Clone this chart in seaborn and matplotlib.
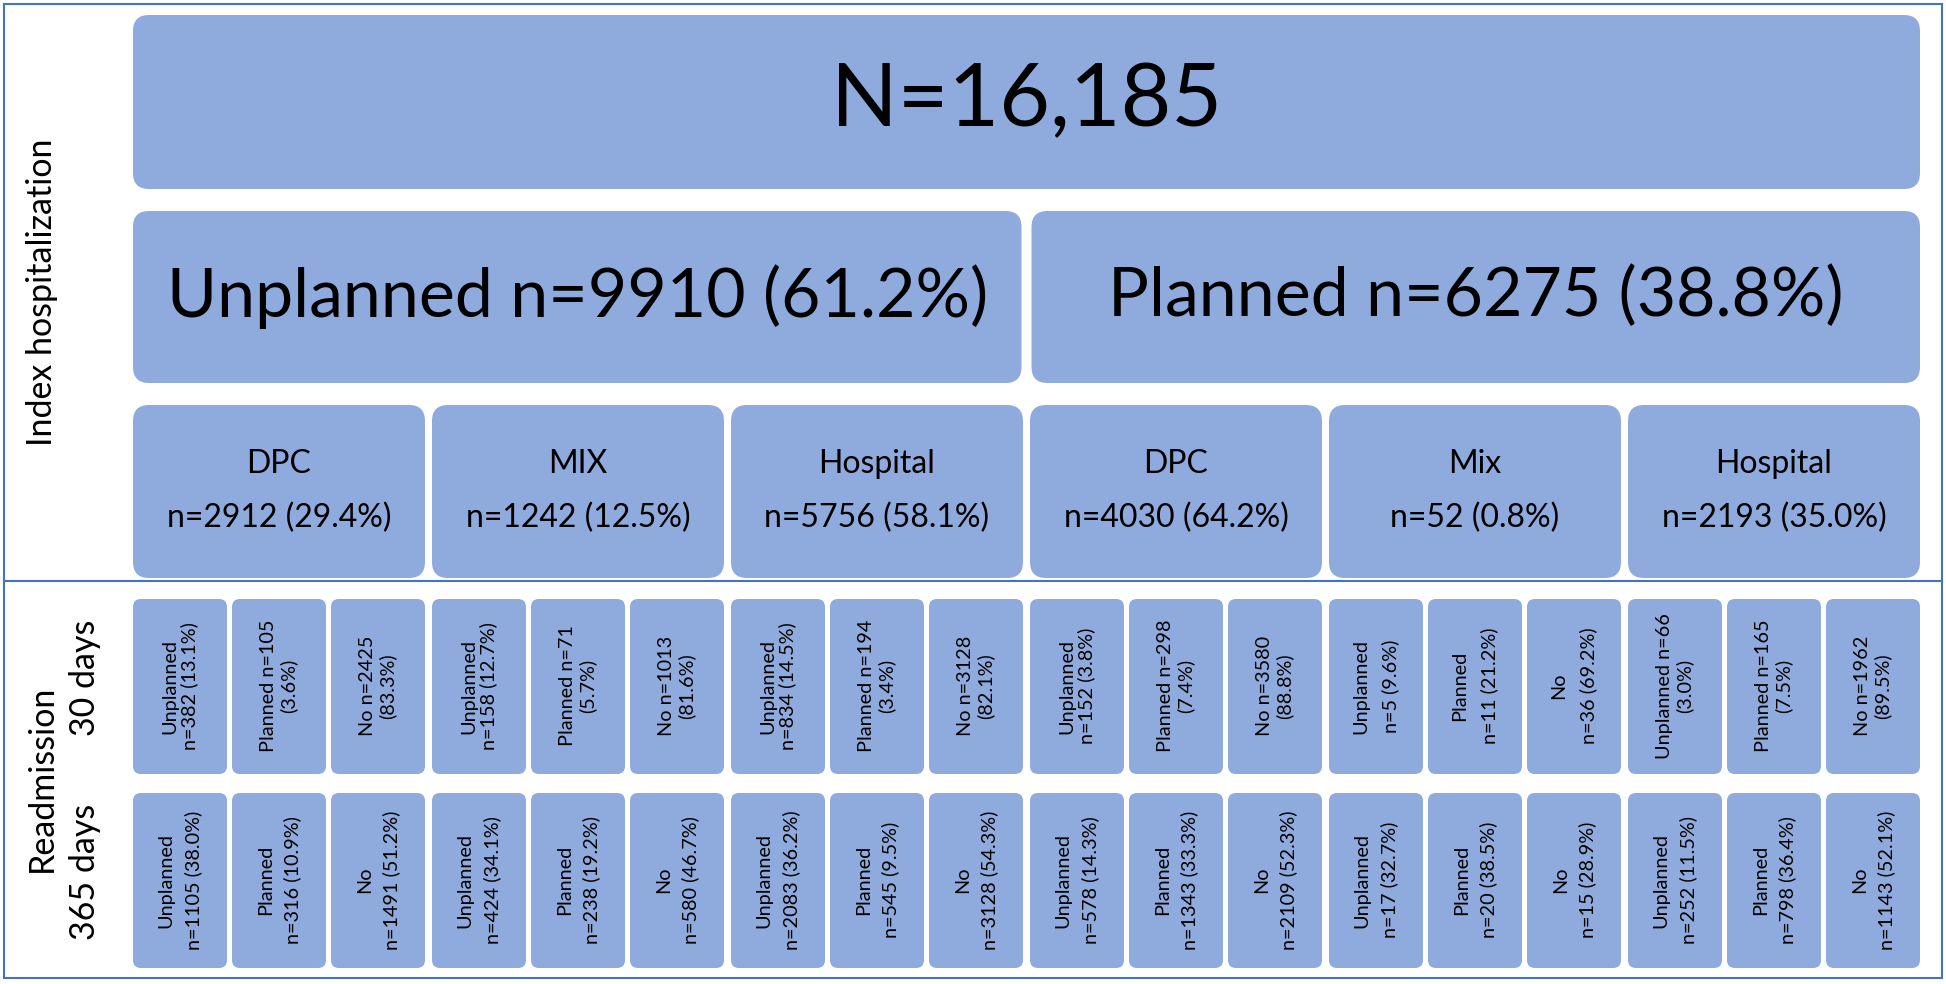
import matplotlib
matplotlib.use("Agg")
import matplotlib.pyplot as plt
from matplotlib.patches import FancyBboxPatch
import seaborn as sns

total_n = 16185
index_types = ["Unplanned", "Planned"]
index_n = [9910, 6275]
index_pct = [61.2, 38.8]

settings = ["DPC", "MIX", "Hospital", "DPC", "Mix", "Hospital"]
setting_n = [2912, 1242, 5756, 4030, 52, 2193]
setting_pct = [29.4, 12.5, 58.1, 64.2, 0.8, 35.0]

readmit_types = ["Unplanned", "Planned", "No"]
r30_n = [382, 105, 2425, 158, 71, 1013, 834, 194, 3128,
         152, 298, 3580, 5, 11, 36, 66, 165, 1962]
r30_pct = [13.1, 3.6, 83.3, 12.7, 5.7, 81.6, 14.5, 3.4, 82.1,
           3.8, 7.4, 88.8, 9.6, 21.2, 69.2, 3.0, 7.5, 89.5]
r365_n = [1105, 316, 1491, 424, 238, 580, 2083, 545, 3128,
          578, 1343, 2109, 17, 20, 15, 252, 798, 1143]
r365_pct = [38.0, 10.9, 51.2, 34.1, 19.2, 46.7, 36.2, 9.5, 54.3,
            14.3, 33.3, 52.3, 32.7, 38.5, 28.9, 11.5, 36.4, 52.1]

# where each 30-day label wraps ("name": after the type, "n": after the count)
break30 = ["name", "n", "n", "name", "n", "n", "name", "n", "n",
           "name", "n", "n", "name", "name", "name", "n", "n", "n"]

# ---- style ----
sns.set_theme(style="white")
plt.rcParams["font.family"] = ["Lato", "DejaVu Sans"]
plt.rcParams["text.color"] = "black"
box_color = sns.color_palette(["#8FAADC"])[0]
frame_color = "#4472C4"

W, H = 1946, 984
fig = plt.figure(figsize=(W / 100, H / 100), dpi=100)
ax = fig.add_axes([0, 0, 1, 1])
ax.set_xlim(0, W)
ax.set_ylim(H, 0)
ax.axis("off")


def box(x, y, w, h, r):
    ax.add_patch(FancyBboxPatch((x, y), w, h,
                                boxstyle=f"round,pad=0,rounding_size={r}",
                                fc=box_color, ec="none"))


X0, X1 = 133, 1920
group_gap, cell_gap = 7, 5
group_w = (X1 - X0 - 5 * group_gap) / 6
cell_w = (group_w - 2 * cell_gap) / 3

# outer frame + separator
ax.add_patch(plt.Rectangle((4, 4), 1938, 974, fill=False, ec=frame_color, lw=1.5))
ax.plot([4, 1942], [581, 581], color=frame_color, lw=1.5)

# total
box(X0, 15, X1 - X0, 174, 16)
ax.text((X0 + X1) / 2, 102, f"N={total_n:,}", ha="center", va="center", fontsize=63)

# index type
half_w = (X1 - X0 - 10) / 2
for i, (t, n, p) in enumerate(zip(index_types, index_n, index_pct)):
    x = X0 + i * (half_w + 10)
    box(x, 211, half_w, 172, 16)
    ax.text(x + half_w / 2, 297, f"{t} n={n} ({p:.1f}%)",
            ha="center", va="center", fontsize=49)

# setting
for g, (s, n, p) in enumerate(zip(settings, setting_n, setting_pct)):
    x = X0 + g * (group_w + group_gap)
    box(x, 405, group_w, 173, 16)
    ax.text(x + group_w / 2, 491, f"{s}\nn={n} ({p:.1f}%)", ha="center",
            va="center", fontsize=23, linespacing=1.95, multialignment="center")


def cell_label(kind, n, p, brk):
    if brk == "name":
        return f"{kind}\nn={n} ({p:.1f}%)"
    return f"{kind} n={n}\n({p:.1f}%)"


# readmission cells
for k in range(18):
    g, j = divmod(k, 3)
    x = X0 + g * (group_w + group_gap) + j * (cell_w + cell_gap)
    kind = readmit_types[j]
    # 30 days
    box(x, 599, cell_w, 175, 8)
    ls = 1.8 if g == 4 else 1.15
    ax.text(x + cell_w / 2, 686, cell_label(kind, r30_n[k], r30_pct[k], break30[k]),
            rotation=90, ha="center", va="center", fontsize=14.3,
            linespacing=ls, multialignment="center")
    # 365 days
    box(x, 793, cell_w, 175, 8)
    ax.text(x + cell_w / 2, 880, cell_label(kind, r365_n[k], r365_pct[k], "name"),
            rotation=90, ha="center", va="center", fontsize=14.3,
            linespacing=1.65, multialignment="center")

# side labels
ax.text(42, 292, "Index hospitalization", rotation=90, ha="center", va="center", fontsize=24.5)
ax.text(42, 778, "Readmission", rotation=90, ha="center", va="center", fontsize=24.5)
ax.text(85, 678, "30 days", rotation=90, ha="center", va="center", fontsize=24.5)
ax.text(85, 872, "365 days", rotation=90, ha="center", va="center", fontsize=24.5)

fig.savefig("out.png", dpi=100)
